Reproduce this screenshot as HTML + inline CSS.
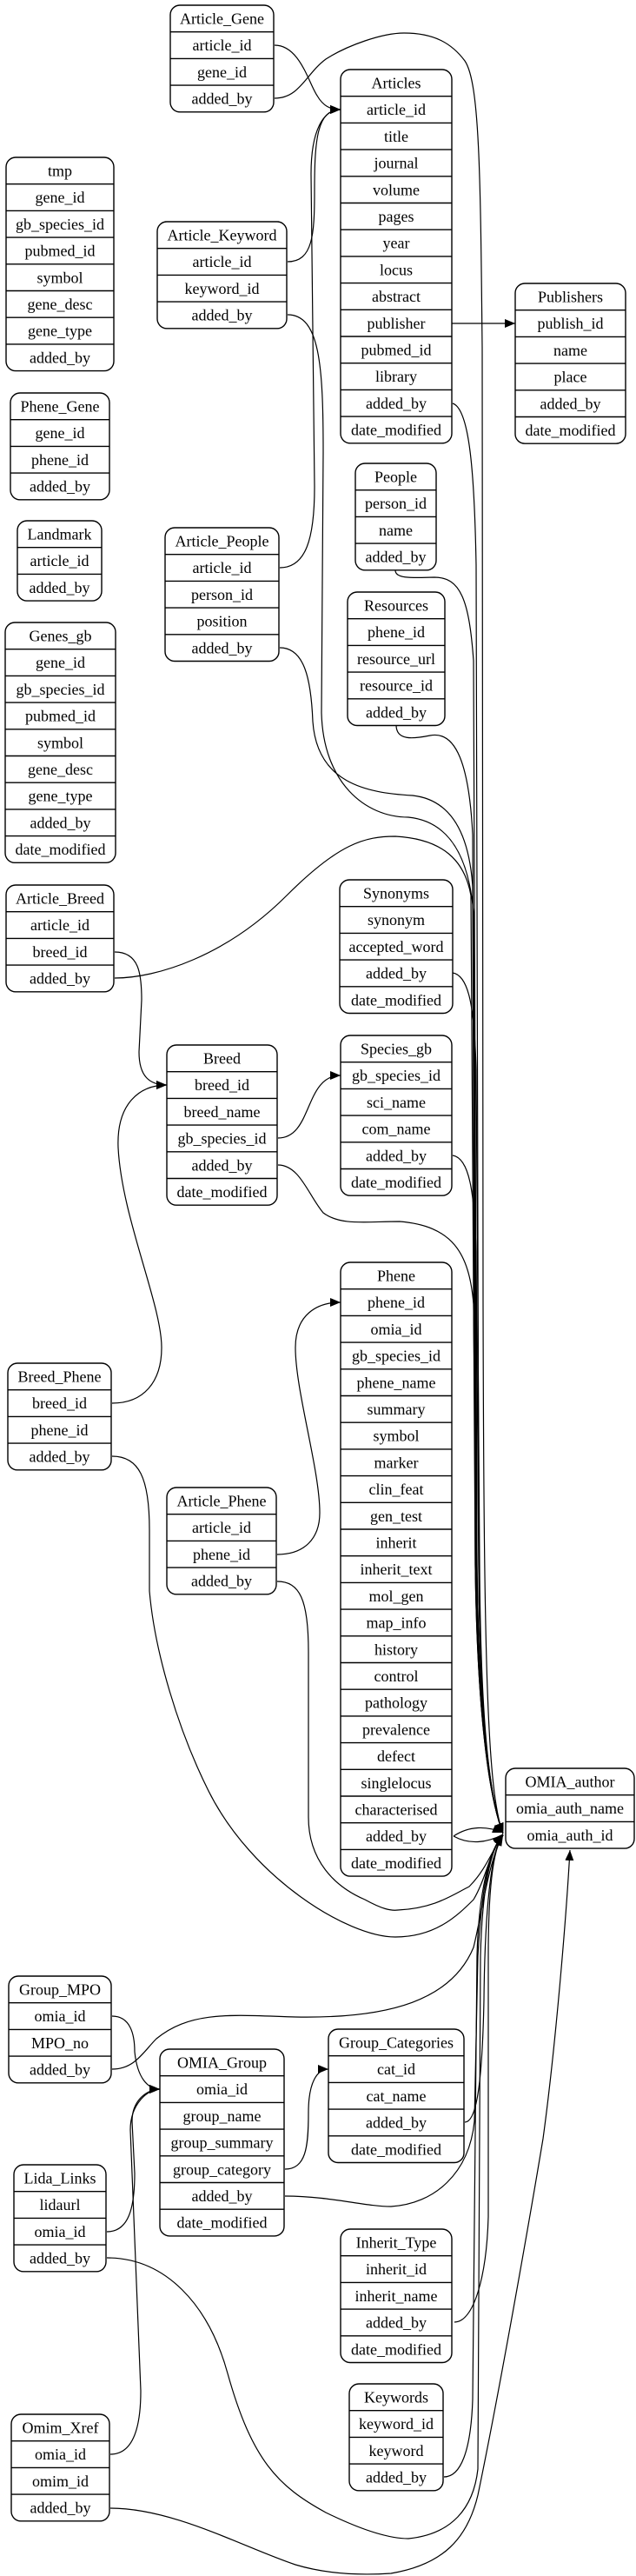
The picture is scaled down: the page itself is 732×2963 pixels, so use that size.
<!DOCTYPE html>
<html><head><meta charset="utf-8"><style>
html,body{margin:0;padding:0;background:#fff;}
svg{display:block;}
text{font-family:"Liberation Serif",serif;font-size:18px;text-anchor:middle;fill:#000;}
.n rect{fill:#fff;stroke:#000;stroke-width:1.4;}
.n path{stroke:#000;stroke-width:1.4;fill:none;}
.e{fill:none;stroke:#000;stroke-width:1.2;}
</style></head><body>
<svg width="732" height="2963" viewBox="0 0 732 2963" xmlns="http://www.w3.org/2000/svg">
<defs>
<marker id="a" markerUnits="userSpaceOnUse" markerWidth="14" markerHeight="12" refX="12" refY="6" orient="auto">
<path d="M0,1 L12,6 L0,11 Z" fill="#000"/>
</marker>
</defs>

<!-- edges -->
<g class="e">
<path d="M316,52 C345,52 355,95 365,110 C372,122 380,126 392,126" marker-end="url(#a)"/>
<path d="M316,113 C345,113 352,85 375,68 C400,52 440,38 465,38 C500,38 520,50 535,70 C552,95 553,200 555,400 L556,1500 C557,1900 560,2060 579,2109" marker-end="url(#a)"/>
<path d="M331,301 C360,301 362,270 362,220 C362,160 365,126 392,126" marker-end="url(#a)"/>
<path d="M322,653 C352,653 362,620 362,560 L358,200 C358,150 372,126 392,126" marker-end="url(#a)"/>
<path d="M331,362 C368,362 372,420 372,520 L370,820 C372,900 420,940 470,940 C520,945 540,990 545,1050 L549,1800 C550,1950 560,2060 579,2109" marker-end="url(#a)"/>
<path d="M322,745 C350,745 358,780 360,830 C365,900 420,912 475,915 C520,920 540,960 544,1020 L547,1800 C549,1950 560,2060 579,2109" marker-end="url(#a)"/>
<path d="M520,372 L593,372" marker-end="url(#a)"/>
<path d="M521,464 C540,470 546,540 548,650 L551,1800 C552,1950 560,2060 579,2109" marker-end="url(#a)"/>
<path d="M455,656 C455,665 470,665 500,664 C530,664 540,690 545,760 L549,1800 C551,1950 560,2060 579,2109" marker-end="url(#a)"/>
<path d="M456,834 C456,852 475,850 495,846 C525,840 540,880 544,960 L548,1800 C550,1950 560,2060 579,2109" marker-end="url(#a)"/>
<path d="M521,1119 C540,1122 546,1160 548,1230 L552,1800 C553,1950 560,2060 579,2109" marker-end="url(#a)"/>
<path d="M521,1329 C540,1332 546,1370 548,1440 L551,1800 C552,1950 560,2060 579,2109" marker-end="url(#a)"/>
<path d="M320,1340 C345,1340 355,1375 372,1395 C392,1410 420,1405 460,1405 C520,1410 540,1440 545,1500 L548,1800 C550,1950 560,2060 579,2109" marker-end="url(#a)"/>
<path d="M320,1309 C360,1309 350,1237 392,1237" marker-end="url(#a)"/>
<path d="M132,1095 C160,1095 163,1120 163,1150 L160,1210 C160,1238 172,1248 192,1248" marker-end="url(#a)"/>
<path d="M132,1125 C180,1125 260,1100 330,1030 C390,970 420,962 455,962 C510,965 535,990 542,1030 L547,1800 C549,1950 560,2060 579,2109" marker-end="url(#a)"/>
<path d="M129,1614 C165,1614 186,1590 186,1550 C186,1500 140,1400 136,1320 C134,1270 160,1248 192,1248" marker-end="url(#a)"/>
<path d="M129,1675 C160,1675 172,1700 172,1760 L172,1830 C178,1900 205,1990 240,2060 C290,2160 400,2228 455,2228 C500,2228 525,2205 545,2185 C560,2160 565,2125 579,2110" marker-end="url(#a)"/>
<path d="M319,1788 C350,1788 368,1770 368,1740 C368,1690 340,1600 340,1550 C340,1512 365,1498 392,1498" marker-end="url(#a)"/>
<path d="M319,1819 C345,1819 355,1840 355,1900 L355,2090 C355,2140 385,2170 420,2185 C440,2196 450,2198 458,2197 C500,2195 520,2180 540,2170 C560,2150 568,2125 579,2110" marker-end="url(#a)"/>
<path d="M522,2112 C540,2100 560,2100 579,2108" marker-end="url(#a)"/>
<path d="M522,2112 C540,2122 560,2120 579,2110"/>
<path d="M129,2319 C150,2319 155,2340 155,2360 C158,2390 170,2403 184,2403" marker-end="url(#a)"/>
<path d="M129,2380 C155,2380 165,2360 180,2345 C220,2312 270,2318 340,2320 C450,2322 520,2300 545,2240 C555,2200 562,2140 579,2111" marker-end="url(#a)"/>
<path d="M328,2495 C352,2495 355,2470 355,2430 C355,2395 365,2380 378,2380" marker-end="url(#a)"/>
<path d="M328,2526 C380,2526 420,2538 450,2538 C500,2535 540,2500 546,2440 L550,2250 C555,2160 565,2125 579,2111" marker-end="url(#a)"/>
<path d="M535,2441 C548,2441 555,2400 557,2300 C558,2200 565,2125 579,2111" marker-end="url(#a)"/>
<path d="M523,2671 C545,2671 560,2620 562,2550 L562,2250 C562,2170 568,2125 579,2111" marker-end="url(#a)"/>
<path d="M511,2849 C530,2849 542,2820 544,2760 L549,2250 C551,2170 565,2125 579,2111" marker-end="url(#a)"/>
<path d="M123,2567 C148,2567 155,2540 155,2500 L152,2440 C152,2415 170,2403 184,2403" marker-end="url(#a)"/>
<path d="M127,2823 C150,2823 162,2800 162,2750 L150,2450 C150,2420 170,2403 184,2403" marker-end="url(#a)"/>
<path d="M123,2597 C190,2597 240,2650 262,2730 C290,2830 320,2860 375,2890 C420,2912 450,2920 470,2920 C520,2915 545,2885 550,2840 L553,2250 C555,2170 565,2125 579,2111" marker-end="url(#a)"/>
<path d="M127,2885 C200,2885 280,2930 340,2950 C380,2962 420,2962 450,2960 C510,2950 538,2920 550,2870 C575,2750 610,2550 625,2460 C640,2350 652,2200 656,2128" marker-end="url(#a)"/>
</g>

<!-- nodes -->
<g class="n" transform="translate(196,6)"><rect width="119" height="122.8" rx="11"/><path d="M0,30.7H119M0,61.4H119M0,92.1H119"/>
<text x="59.5" y="21.5">Article_Gene</text><text x="59.5" y="52.2">article_id</text><text x="59.5" y="82.9">gene_id</text><text x="59.5" y="113.6">added_by</text></g>

<g class="n" transform="translate(392,80)"><rect width="128" height="429.8" rx="11"/><path d="M0,30.7H128M0,61.4H128M0,92.1H128M0,122.8H128M0,153.5H128M0,184.2H128M0,214.9H128M0,245.6H128M0,276.3H128M0,307H128M0,337.7H128M0,368.4H128M0,399.1H128"/>
<text x="64" y="21.5">Articles</text><text x="64" y="52.2">article_id</text><text x="64" y="82.9">title</text><text x="64" y="113.6">journal</text><text x="64" y="144.3">volume</text><text x="64" y="175">pages</text><text x="64" y="205.7">year</text><text x="64" y="236.4">locus</text><text x="64" y="267.1">abstract</text><text x="64" y="297.8">publisher</text><text x="64" y="328.5">pubmed_id</text><text x="64" y="359.2">library</text><text x="64" y="389.9">added_by</text><text x="64" y="420.6">date_modified</text></g>

<g class="n" transform="translate(7,181)"><rect width="124" height="245.6" rx="11"/><path d="M0,30.7H124M0,61.4H124M0,92.1H124M0,122.8H124M0,153.5H124M0,184.2H124M0,214.9H124"/>
<text x="62" y="21.5">tmp</text><text x="62" y="52.2">gene_id</text><text x="62" y="82.9">gb_species_id</text><text x="62" y="113.6">pubmed_id</text><text x="62" y="144.3">symbol</text><text x="62" y="175">gene_desc</text><text x="62" y="205.7">gene_type</text><text x="62" y="236.4">added_by</text></g>

<g class="n" transform="translate(181,255)"><rect width="149" height="122.8" rx="11"/><path d="M0,30.7H149M0,61.4H149M0,92.1H149"/>
<text x="74.5" y="21.5">Article_Keyword</text><text x="74.5" y="52.2">article_id</text><text x="74.5" y="82.9">keyword_id</text><text x="74.5" y="113.6">added_by</text></g>

<g class="n" transform="translate(593,326)"><rect width="127" height="184.2" rx="11"/><path d="M0,30.7H127M0,61.4H127M0,92.1H127M0,122.8H127M0,153.5H127"/>
<text x="63.5" y="21.5">Publishers</text><text x="63.5" y="52.2">publish_id</text><text x="63.5" y="82.9">name</text><text x="63.5" y="113.6">place</text><text x="63.5" y="144.3">added_by</text><text x="63.5" y="175">date_modified</text></g>

<g class="n" transform="translate(12,452)"><rect width="114" height="122.8" rx="11"/><path d="M0,30.7H114M0,61.4H114M0,92.1H114"/>
<text x="57" y="21.5">Phene_Gene</text><text x="57" y="52.2">gene_id</text><text x="57" y="82.9">phene_id</text><text x="57" y="113.6">added_by</text></g>

<g class="n" transform="translate(409,533)"><rect width="93" height="122.8" rx="11"/><path d="M0,30.7H93M0,61.4H93M0,92.1H93"/>
<text x="46.5" y="21.5">People</text><text x="46.5" y="52.2">person_id</text><text x="46.5" y="82.9">name</text><text x="46.5" y="113.6">added_by</text></g>

<g class="n" transform="translate(20,599)"><rect width="97" height="92.1" rx="11"/><path d="M0,30.7H97M0,61.4H97"/>
<text x="48.5" y="21.5">Landmark</text><text x="48.5" y="52.2">article_id</text><text x="48.5" y="82.9">added_by</text></g>

<g class="n" transform="translate(190,607)"><rect width="131" height="153.5" rx="11"/><path d="M0,30.7H131M0,61.4H131M0,92.1H131M0,122.8H131"/>
<text x="65.5" y="21.5">Article_People</text><text x="65.5" y="52.2">article_id</text><text x="65.5" y="82.9">person_id</text><text x="65.5" y="113.6">position</text><text x="65.5" y="144.3">added_by</text></g>

<g class="n" transform="translate(400,681)"><rect width="112" height="153.5" rx="11"/><path d="M0,30.7H112M0,61.4H112M0,92.1H112M0,122.8H112"/>
<text x="56" y="21.5">Resources</text><text x="56" y="52.2">phene_id</text><text x="56" y="82.9">resource_url</text><text x="56" y="113.6">resource_id</text><text x="56" y="144.3">added_by</text></g>

<g class="n" transform="translate(6,716)"><rect width="127" height="276.3" rx="11"/><path d="M0,30.7H127M0,61.4H127M0,92.1H127M0,122.8H127M0,153.5H127M0,184.2H127M0,214.9H127M0,245.6H127"/>
<text x="63.5" y="21.5">Genes_gb</text><text x="63.5" y="52.2">gene_id</text><text x="63.5" y="82.9">gb_species_id</text><text x="63.5" y="113.6">pubmed_id</text><text x="63.5" y="144.3">symbol</text><text x="63.5" y="175">gene_desc</text><text x="63.5" y="205.7">gene_type</text><text x="63.5" y="236.4">added_by</text><text x="63.5" y="267.1">date_modified</text></g>

<g class="n" transform="translate(391,1012)"><rect width="130" height="153.5" rx="11"/><path d="M0,30.7H130M0,61.4H130M0,92.1H130M0,122.8H130"/>
<text x="65" y="21.5">Synonyms</text><text x="65" y="52.2">synonym</text><text x="65" y="82.9">accepted_word</text><text x="65" y="113.6">added_by</text><text x="65" y="144.3">date_modified</text></g>

<g class="n" transform="translate(7,1018)"><rect width="124" height="122.8" rx="11"/><path d="M0,30.7H124M0,61.4H124M0,92.1H124"/>
<text x="62" y="21.5">Article_Breed</text><text x="62" y="52.2">article_id</text><text x="62" y="82.9">breed_id</text><text x="62" y="113.6">added_by</text></g>

<g class="n" transform="translate(392,1191)"><rect width="128" height="184.2" rx="11"/><path d="M0,30.7H128M0,61.4H128M0,92.1H128M0,122.8H128M0,153.5H128"/>
<text x="64" y="21.5">Species_gb</text><text x="64" y="52.2">gb_species_id</text><text x="64" y="82.9">sci_name</text><text x="64" y="113.6">com_name</text><text x="64" y="144.3">added_by</text><text x="64" y="175">date_modified</text></g>

<g class="n" transform="translate(192,1202)"><rect width="127" height="184.2" rx="11"/><path d="M0,30.7H127M0,61.4H127M0,92.1H127M0,122.8H127M0,153.5H127"/>
<text x="63.5" y="21.5">Breed</text><text x="63.5" y="52.2">breed_id</text><text x="63.5" y="82.9">breed_name</text><text x="63.5" y="113.6">gb_species_id</text><text x="63.5" y="144.3">added_by</text><text x="63.5" y="175">date_modified</text></g>

<g class="n" transform="translate(392,1452)"><rect width="128" height="706.1" rx="11"/><path d="M0,30.7H128M0,61.4H128M0,92.1H128M0,122.8H128M0,153.5H128M0,184.2H128M0,214.9H128M0,245.6H128M0,276.3H128M0,307H128M0,337.7H128M0,368.4H128M0,399.1H128M0,429.8H128M0,460.5H128M0,491.2H128M0,521.9H128M0,552.6H128M0,583.3H128M0,614H128M0,644.7H128M0,675.4H128"/>
<text x="64" y="21.5">Phene</text><text x="64" y="52.2">phene_id</text><text x="64" y="82.9">omia_id</text><text x="64" y="113.6">gb_species_id</text><text x="64" y="144.3">phene_name</text><text x="64" y="175">summary</text><text x="64" y="205.7">symbol</text><text x="64" y="236.4">marker</text><text x="64" y="267.1">clin_feat</text><text x="64" y="297.8">gen_test</text><text x="64" y="328.5">inherit</text><text x="64" y="359.2">inherit_text</text><text x="64" y="389.9">mol_gen</text><text x="64" y="420.6">map_info</text><text x="64" y="451.3">history</text><text x="64" y="482">control</text><text x="64" y="512.7">pathology</text><text x="64" y="543.4">prevalence</text><text x="64" y="574.1">defect</text><text x="64" y="604.8">singlelocus</text><text x="64" y="635.5">characterised</text><text x="64" y="666.2">added_by</text><text x="64" y="696.9">date_modified</text></g>

<g class="n" transform="translate(9,1568)"><rect width="119" height="122.8" rx="11"/><path d="M0,30.7H119M0,61.4H119M0,92.1H119"/>
<text x="59.5" y="21.5">Breed_Phene</text><text x="59.5" y="52.2">breed_id</text><text x="59.5" y="82.9">phene_id</text><text x="59.5" y="113.6">added_by</text></g>

<g class="n" transform="translate(192,1711)"><rect width="126" height="122.8" rx="11"/><path d="M0,30.7H126M0,61.4H126M0,92.1H126"/>
<text x="63" y="21.5">Article_Phene</text><text x="63" y="52.2">article_id</text><text x="63" y="82.9">phene_id</text><text x="63" y="113.6">added_by</text></g>

<g class="n" transform="translate(582,2034)"><rect width="148" height="92.1" rx="11"/><path d="M0,30.7H148M0,61.4H148"/>
<text x="74" y="21.5">OMIA_author</text><text x="74" y="52.2">omia_auth_name</text><text x="74" y="82.9">omia_auth_id</text></g>

<g class="n" transform="translate(10,2273)"><rect width="118" height="122.8" rx="11"/><path d="M0,30.7H118M0,61.4H118M0,92.1H118"/>
<text x="59" y="21.5">Group_MPO</text><text x="59" y="52.2">omia_id</text><text x="59" y="82.9">MPO_no</text><text x="59" y="113.6">added_by</text></g>

<g class="n" transform="translate(378,2334)"><rect width="156" height="153.5" rx="11"/><path d="M0,30.7H156M0,61.4H156M0,92.1H156M0,122.8H156"/>
<text x="78" y="21.5">Group_Categories</text><text x="78" y="52.2">cat_id</text><text x="78" y="82.9">cat_name</text><text x="78" y="113.6">added_by</text><text x="78" y="144.3">date_modified</text></g>

<g class="n" transform="translate(184,2357)"><rect width="143" height="214.9" rx="11"/><path d="M0,30.7H143M0,61.4H143M0,92.1H143M0,122.8H143M0,153.5H143M0,184.2H143"/>
<text x="71.5" y="21.5">OMIA_Group</text><text x="71.5" y="52.2">omia_id</text><text x="71.5" y="82.9">group_name</text><text x="71.5" y="113.6">group_summary</text><text x="71.5" y="144.3">group_category</text><text x="71.5" y="175">added_by</text><text x="71.5" y="205.7">date_modified</text></g>

<g class="n" transform="translate(16,2490)"><rect width="106" height="122.8" rx="11"/><path d="M0,30.7H106M0,61.4H106M0,92.1H106"/>
<text x="53" y="21.5">Lida_Links</text><text x="53" y="52.2">lidaurl</text><text x="53" y="82.9">omia_id</text><text x="53" y="113.6">added_by</text></g>

<g class="n" transform="translate(392,2564)"><rect width="128" height="153.5" rx="11"/><path d="M0,30.7H128M0,61.4H128M0,92.1H128M0,122.8H128"/>
<text x="64" y="21.5">Inherit_Type</text><text x="64" y="52.2">inherit_id</text><text x="64" y="82.9">inherit_name</text><text x="64" y="113.6">added_by</text><text x="64" y="144.3">date_modified</text></g>

<g class="n" transform="translate(402,2742)"><rect width="108" height="122.8" rx="11"/><path d="M0,30.7H108M0,61.4H108M0,92.1H108"/>
<text x="54" y="21.5">Keywords</text><text x="54" y="52.2">keyword_id</text><text x="54" y="82.9">keyword</text><text x="54" y="113.6">added_by</text></g>

<g class="n" transform="translate(13,2777)"><rect width="113" height="122.8" rx="11"/><path d="M0,30.7H113M0,61.4H113M0,92.1H113"/>
<text x="56.5" y="21.5">Omim_Xref</text><text x="56.5" y="52.2">omia_id</text><text x="56.5" y="82.9">omim_id</text><text x="56.5" y="113.6">added_by</text></g>
</svg>
</body></html>
